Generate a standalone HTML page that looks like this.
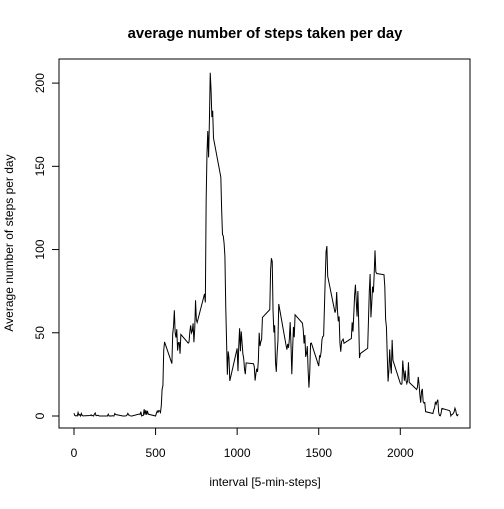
<!DOCTYPE html>
<html><head><meta charset="utf-8"><style>
body{margin:0;background:#fff}
svg text{font-family:"Liberation Sans",Arial,sans-serif;fill:#000}
</style></head><body>
<svg id="chart" width="504" height="504" viewBox="0 0 504 504" xmlns="http://www.w3.org/2000/svg">
<rect width="504" height="504" fill="#fff"/>
<text x="265" y="38" text-anchor="middle" font-size="14.8" font-weight="bold">average number of steps taken per day</text>
<rect x="59" y="59" width="411" height="369" fill="none" stroke="#000" stroke-width="1"/>
<g id="xaxis"></g>
<g id="yaxis"></g>
<text x="265" y="486" text-anchor="middle" font-size="12">interval [5-min-steps]</text>
<text transform="translate(13,243) rotate(-90)" text-anchor="middle" font-size="12">Average number of steps per day</text>
<path id="line" fill="none" stroke="#000" stroke-width="1"/>
</svg>
<script>
const steps = [
1.7,0.3,0.1,0.2,0,2.1,0.5,0.9,0,1.5,0.3,0.1,
0.3,0.7,0.2,0.3,0,1.1,1.8,0.2,0.2,0.4,0.3,0,
0,0,1.1,0,0,0.1,0,0.2,0,0,1.5,0.9,
0,0,0,0,0.2,0.6,1.6,0.6,0.5,0.1,0,0,
1.2,0.9,2.6,0,0.3,0.4,4.1,0.7,3.5,0.8,3.1,1.1,
0,1.6,3,2.2,3.3,3,2.1,6.1,16,18.3,39.5,44.5,
31.5,49.3,53.8,63.5,50,47.1,52.2,39.3,44,44.2,37.4,49,
43.8,44.4,50.5,54.5,49.9,51,55.7,44.3,52.3,69.5,57.8,56.2,
73.4,68.2,129.4,157.5,171.2,155.4,177.3,206.2,195.9,179.6,183.4,167,
143.5,124,109.1,108.1,103.7,96,66.2,45.2,24.8,38.8,35,21.1,
40.6,27,42.4,52.7,38.9,50.8,44.3,37.4,34.7,28.3,25.1,31.9,
31.4,29.7,21.3,25.5,28.4,26.5,33.4,50,42,44.6,46,59.2,
63.9,87.7,94.8,92.8,63.4,50.2,54.5,32.4,26.5,37.7,45.1,67.3,
42.3,39.9,43.3,41,46.2,56.4,42.8,25.1,40,53.5,47.3,60.8,
55.8,52,43.6,48.7,35.5,37.6,42,27.5,17.1,26.1,43.6,43.8,
30,36.1,35.5,38.8,46,47.8,48.1,65.3,82.9,98.7,102.1,84,
62.1,64.1,74.5,63.2,56.9,59.8,43.9,38.6,44.7,45.5,46.2,43.7,
46.6,56.3,50.7,61.2,72.7,78.9,68.9,59.7,75.1,56.5,34.8,37.5,
40.7,58,74.7,85.3,59.3,67.8,77.7,74.2,85.3,99.5,86.6,85.6,
84.9,77.8,58,53.4,36.3,20.7,27.4,40,30.2,25.5,45.7,33.5,
19.6,19,19.3,33.3,26.8,21.2,27.3,21.3,19.5,21.3,32.3,20.2,
15.9,17.2,23.5,19.2,12.5,8,14.7,16.3,8.7,7.8,8.1,2.6,
1.5,3.7,4.8,8.5,7.1,8.7,9.8,2.2,0.3,0.1,1.6,4.6,
3.3,2.8,0,0.8,1,1.6,2.6,4.7,3.3,0.6,0.2,1.1];
const hours = [0,1,2,3,4,5,6,7,8,9,10,11,12,13,14,15,16,17,18,19,20,21,22,23];
const minutes = [0,5,10,15,20,25,30,35,40,45,50,55];
const xTicks = [0,500,1000,1500,2000];
const yTicks = [0,50,100,150,200];

const intervals = [];
hours.forEach(h => minutes.forEach(m => intervals.push(h*100+m)));

const xs = v => 74 + v*0.16315;
const ys = v => 416 - v*1.6645;
const NS = "http://www.w3.org/2000/svg";

let d = "";
steps.forEach((v,i) => { d += (i ? "L" : "M") + xs(intervals[i]).toFixed(2) + "," + ys(v).toFixed(2); });
document.getElementById('line').setAttribute('d', d);

const xa = document.getElementById('xaxis');
const xl = document.createElementNS(NS,'line');


xl.setAttribute('x1',xs(xTicks[0])); xl.setAttribute('x2',xs(xTicks[xTicks.length-1]));
xl.setAttribute('y1',428); xl.setAttribute('y2',428); xl.setAttribute('stroke','#000');
xa.appendChild(xl);
xTicks.forEach(t => {
  const tk = document.createElementNS(NS,'line');
  
  
  tk.setAttribute('x1',xs(t)); tk.setAttribute('x2',xs(t)); tk.setAttribute('y1',428); tk.setAttribute('y2',435); tk.setAttribute('stroke','#000');
  xa.appendChild(tk);
  const tx = document.createElementNS(NS,'text');
  
  
  tx.setAttribute('x',xs(t)); tx.setAttribute('y',457); tx.setAttribute('text-anchor','middle'); tx.setAttribute('font-size','12');
  tx.textContent = t; xa.appendChild(tx);
});
const ya = document.getElementById('yaxis');
const yl = document.createElementNS(NS,'line');


yl.setAttribute('x1',59); yl.setAttribute('x2',59);
yl.setAttribute('y1',ys(yTicks[0])); yl.setAttribute('y2',ys(yTicks[yTicks.length-1])); yl.setAttribute('stroke','#000');
ya.appendChild(yl);
yTicks.forEach(t => {
  const tk = document.createElementNS(NS,'line');
  
  
  tk.setAttribute('x1',52); tk.setAttribute('x2',59); tk.setAttribute('y1',ys(t)); tk.setAttribute('y2',ys(t)); tk.setAttribute('stroke','#000');
  ya.appendChild(tk);
  const tx = document.createElementNS(NS,'text');
  
  
  tx.setAttribute('transform','translate(44,'+ys(t)+') rotate(-90)'); tx.setAttribute('text-anchor','middle'); tx.setAttribute('font-size','12');
  tx.textContent = t; ya.appendChild(tx);
});
</script>
</body></html>
